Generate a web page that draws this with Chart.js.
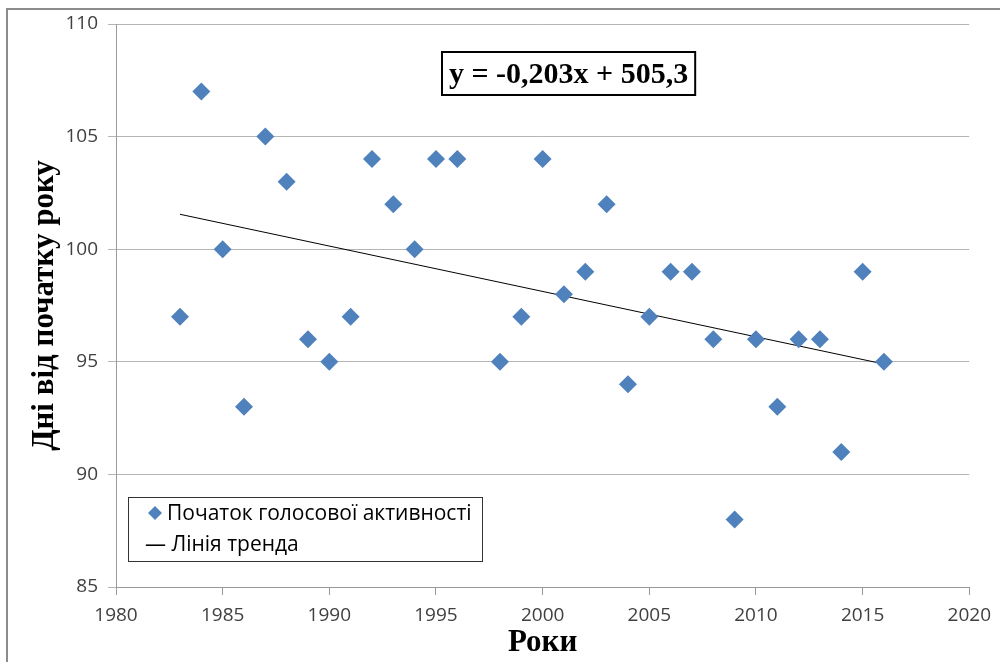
<!DOCTYPE html>
<html>
<head>
<meta charset="utf-8">
<script src="https://cdn.jsdelivr.net/npm/chart.js@4/dist/chart.umd.min.js"></script>
<style>
    html, body { margin: 0; padding: 0; background: #fff; }
    #wrap { width: 1000px; height: 662px; position: relative; }
</style>
</head>
<body>
<div id="wrap"><canvas id="sChart" width="1000" height="662"></canvas></div>
<script>
// years and days from start of the year
const years = [1983, 1984, 1985, 1986, 1987, 1988, 1989, 1990, 1991, 1992, 1993, 1994, 1995, 1996,
    1998, 1999, 2000, 2001, 2002, 2003, 2004, 2005, 2006, 2007, 2008, 2009, 2010, 2011, 2012, 2013,
    2014, 2015, 2016];
const days = [97, 107, 100, 93, 105, 103, 96, 95, 97, 104, 102, 100, 104, 104,
    95, 97, 104, 98, 99, 102, 94, 97, 99, 99, 96, 88, 96, 93, 96, 96,
    91, 99, 95];

// trend line ends
const trendYears = [1983, 2016];
const trendDays = [101.55, 94.9];

const seriesLabel = 'Початок голосової активності';
const trendLabel = 'Лінія тренда';
const equationText = 'y = -0,203x + 505,3';
const xTitle = 'Роки';
const yTitle = 'Дні від початку року';

const tickFont = { family: 'Open Sans', size: 19 };
const titleFont = { family: 'Liberation Serif', size: 31, weight: 'bold' };

// draws the outer frame, the equation box and the legend box
const extras = {
    id: 'extras',
    beforeDraw(chart) {
        const c = chart.ctx;
        c.save();
        c.fillStyle = '#fff';
        c.fillRect(0, 0, chart.width, chart.height);
        c.strokeStyle = '#8c8c8c';
        c.lineWidth = 2;
        c.strokeRect(7, 9, 1010, 680);
        c.restore();
    },
    afterDraw(chart) {
        const c = chart.ctx;
        c.save();
        // equation
        c.font = 'bold 30px "Liberation Serif"';
        c.textBaseline = 'middle';
        const w = c.measureText(equationText).width;
        c.fillStyle = '#fff';
        c.fillRect(442, 52, w + 14, 43);
        c.strokeStyle = '#000';
        c.lineWidth = 2;
        c.strokeRect(442, 52, w + 14, 43);
        c.fillStyle = '#000';
        c.fillText(equationText, 449, 75);

        // legend
        c.font = '21px "Open Sans"';
        c.fillStyle = '#fff';
        c.fillRect(128, 497, 354, 64);
        c.strokeStyle = '#333';
        c.lineWidth = 1;
        c.strokeRect(128.5, 497.5, 354, 64);
        c.fillStyle = '#4f81bd';
        c.beginPath();
        c.moveTo(155, 506); c.lineTo(162, 513); c.lineTo(155, 520); c.lineTo(148, 513);
        c.closePath();
        c.fill();
        c.fillStyle = '#000';
        c.fillText(seriesLabel, 167, 514);
        c.fillText('— ' + trendLabel, 145, 545);
        c.restore();
    }
};

const ctx = document.getElementById('sChart').getContext('2d');
const chart = new Chart(ctx, {
    type: 'scatter',
    data: {
        datasets: [{
            label: seriesLabel,
            data: years.map((y, i) => ({ x: y, y: days[i] })),
            pointStyle: 'rectRot',
            pointRadius: 9,
            backgroundColor: '#4f81bd',
            borderColor: '#4f81bd',
            borderWidth: 0,
            order: 1
        }, {
            label: trendLabel,
            data: trendYears.map((y, i) => ({ x: y, y: trendDays[i] })),
            showLine: true,
            pointRadius: 0,
            borderColor: '#000',
            borderWidth: 1,
            order: 2
        }]
    },
    options: {
        responsive: false,
        animation: false,
        layout: { padding: { top: 24, right: 28, left: 0, bottom: 0 } },
        plugins: {
            legend: { display: false },
            tooltip: { enabled: false }
        },
        scales: {
            x: {
                type: 'linear',
                min: 1980,
                max: 2020,
                ticks: { stepSize: 5, font: tickFont, color: '#404040', padding: 9,
                    callback: v => String(v) },
                grid: { display: true, drawOnChartArea: false, tickLength: 8, color: '#999' },
                border: { color: '#999' },
                title: { display: true, text: xTitle, font: titleFont, color: '#000', padding: { top: 0, bottom: 0 } },
                afterFit(s) { s.height = 75; }
            },
            y: {
                min: 85,
                max: 110,
                ticks: { stepSize: 5, font: tickFont, color: '#404040', padding: 10 },
                grid: { color: '#b5b5b5', tickLength: 8 },
                border: { color: '#999' },
                title: { display: true, text: yTitle, font: titleFont, color: '#000', padding: { top: 26, bottom: 0 } },
                afterFit(s) { s.width = 116; }
            }
        }
    },
    plugins: [extras]
});
</script>
</body>
</html>
